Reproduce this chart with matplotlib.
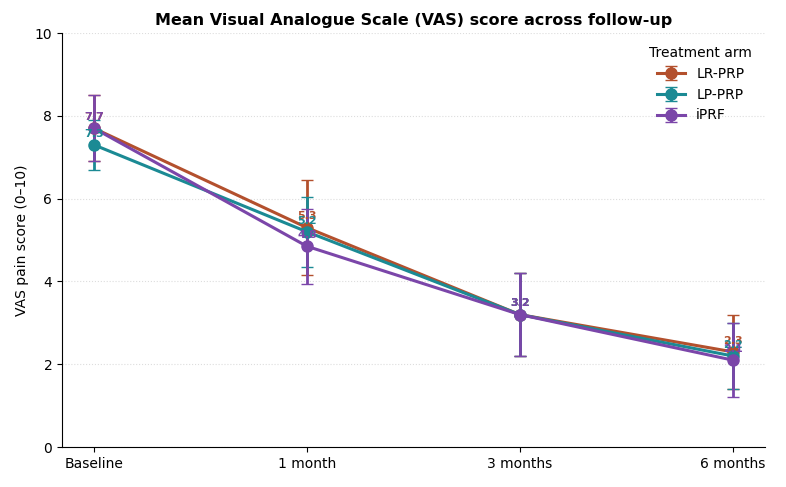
import matplotlib.pyplot as plt
import numpy as np

timepoints = ["Baseline", "1 month", "3 months", "6 months"]
arms = ["LR-PRP", "LP-PRP", "iPRF"]
means = {
    "LR-PRP": [7.7, 5.3, 3.2, 2.3],
    "LP-PRP": [7.3, 5.2, 3.2, 2.2],
    "iPRF":   [7.7, 4.85, 3.2, 2.1],
}
sds = {
    "LR-PRP": [0.8, 1.15, 1.0, 0.9],
    "LP-PRP": [0.6, 0.85, 1.0, 0.8],
    "iPRF":   [0.8, 0.9, 1.0, 0.9],
}
colors = {"LR-PRP": "#b3502d", "LP-PRP": "#1b8a94", "iPRF": "#7b46a9"}

fig, ax = plt.subplots(figsize=(7.86, 4.87), dpi=100)
x = np.arange(len(timepoints))
for arm in arms:
    ax.errorbar(x, means[arm], yerr=sds[arm], color=colors[arm], marker="o",
                markersize=8, linewidth=2.2, capsize=4, elinewidth=2, label=arm)
    for xi, m in zip(x, means[arm]):
        ax.text(xi, m + 0.15, f"{m:.1f}", ha="center", va="bottom",
                color=colors[arm], fontsize=8, fontweight="bold")

ax.set_xticks(x)
ax.set_xticklabels(timepoints)
ax.set_ylim(0, 10)
ax.set_xlim(-0.15, 3.15)
ax.set_ylabel("VAS pain score (0–10)")
ax.set_title("Mean Visual Analogue Scale (VAS) score across follow-up",
             fontweight="bold", fontsize=11.5)
ax.grid(axis="y", linestyle=":", color="#dddddd", linewidth=0.8)
ax.spines["top"].set_visible(False)
ax.spines["right"].set_visible(False)
ax.legend(title="Treatment arm", frameon=False, loc="upper right")
fig.subplots_adjust(left=0.079, right=0.973, top=0.932, bottom=0.082)
fig.savefig("out.png")
